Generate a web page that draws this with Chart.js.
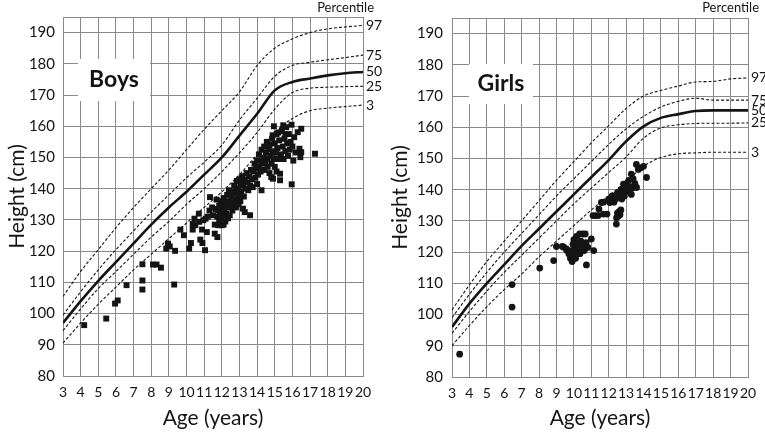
<!DOCTYPE html>
<html lang="en">
<head>
<meta charset="UTF-8">
<title>Height by age - Boys / Girls</title>
<script src="https://cdn.jsdelivr.net/npm/chart.js"></script>
<style>
  body { margin: 0; background: #fff; }
  canvas { position: absolute; top: 0; }
  #boysChart { left: 0; }
  #girlsChart { left: 382px; }
</style>
</head>
<body>
<canvas id="boysChart" width="382" height="433"></canvas>
<canvas id="girlsChart" width="383" height="433"></canvas>
<script>
// age axis and height axis
const ages = [3,4,5,6,7,8,9,10,11,12,13,14,15,16,17,18,19,20];
const yTicks = [80,90,100,110,120,130,140,150,160,170,180,190,195];

// reference percentile curves (cm), one value per age
const boys97 = [105.5,113.5,120.5,127.5,134,140,146,152.5,159,165,171,179.5,185,188,190,191.2,191.8,192.3];
const boys75 = [99.5,107,114,120.5,126.5,132.5,138,143.5,148.5,154,162,169,176,179.5,180.5,181.3,182,182.8];
const boys50 = [97,104,110.5,116.5,122.5,128.5,134,139,144.5,150,157,164,171.5,174.2,175.3,176.3,177,177.4];
const boys25 = [94.5,101.5,108,113.5,119,124.5,129.5,135,140,145.5,151.5,158,165.5,170.8,172.2,172.5,172.7,172.8];
const boys3  = [90.5,97,103,108.5,114,119,124,129,134,139,144.5,151,158,162.5,165,165.8,166.3,166.8];

const girls97 = [101.5,109.5,117,123.5,130,136.5,143,149,155,160.5,166,170,171.8,173.2,174.5,174.7,175.5,175.8];
const girls75 = [99,106.5,113.5,120,126,132,138,143.5,149,154.5,159.5,163.5,166.5,168.3,169.3,168.7,168.7,168.7];
const girls50 = [96,103.5,110,116,122,127.5,133,138.5,144,149.5,155.5,160.3,163,164.2,165.2,165.4,165.4,165.4];
const girls25 = [94,101,107.5,113.5,119,124.5,130,135.5,140.5,145.5,150.5,156.5,159.8,160.8,161.2,161.3,161.3,161.4];
const girls3  = [90,96.5,102.5,108,113,118.5,123.5,128.5,133.5,138,142.5,147.5,150.3,151.5,151.8,152,152,152];

// measured children [age, height]
const boysMeasured = [
  [4.2,96.3],[5.45,98.4],[5.95,103.2],[6.1,104.2],[6.6,109.1],[7.5,115.8],[7.5,110.6],[7.5,107.7],
  [8.1,115.7],[8.3,115.7],[8.55,114.7],[9.3,109.3],[8.85,120.8],[8.95,122.4],[9.05,121.5],[9.35,120.1],
  [9.65,126.9],[9.85,125.1],[10.15,120.8],[10.25,122.6],[10.35,126.9],[10.35,128.7],[10.45,130.4],[10.7,132],
  [10.72,129.4],[10.78,123.7],[10.9,122.6],[10.88,126.9],[11.05,120.3],[11.08,130.4],[11.15,126.1],[11.6,125.6],
  [11.75,124.5],[11.8,128.3],[12.0,128.3],[12.1,128.5],[10.5,128.3],[10.95,129.9],[11.2,131],[11.3,133],
  [11.33,137.3],[11.45,134],[11.5,131.5],[11.6,128.5],[11.65,133.5],
  [11.75,131],[11.8,133],[11.85,134.5],[11.9,132],[11.95,136],[12.0,130.5],[12.0,133.5],[12.05,135],
  [12.1,131.5],[12.1,137],[12.15,133],[12.2,129.5],[12.2,135.5],[12.25,132],[12.3,134],[12.3,138],
  [12.35,130.5],[12.4,136],[12.45,131.5],[12.5,134.5],[12.55,137.5],[12.6,133],[12.65,135.5],[12.7,139],
  [11.7,136.5],[11.85,129.5],[12.4,139.5],[12.75,136.5],[12.8,134],[12.9,137.5],
  [12.6,138.5],[12.7,141],[12.8,139.5],[12.85,142.5],[12.9,140],[13.0,138],[13.0,143],[13.05,141],
  [13.1,139],[13.15,144],[13.2,141.5],[13.25,137.5],[13.3,143],[13.35,140],[13.4,145],[13.45,142],
  [13.5,139.5],[13.55,144],[13.6,141],[13.65,146],[13.7,143],[13.75,140.5],[13.8,145.5],[13.85,148],
  [13.9,143.5],[13.95,146.5],[14.0,141.5],[14.0,149],[13.2,133.6],[13.3,132.5],[13.6,131.5],[14.25,139.5],
  [13.05,136],[12.95,135],
  [14.05,144.5],[14.1,147],[14.1,151],[14.15,149],[14.2,145.5],[14.25,152.5],[14.3,148],[14.35,150],
  [14.4,146],[14.4,153.5],[14.45,148.5],[14.5,151.5],[14.55,155],[14.6,147],[14.6,149.5],[14.65,152.5],
  [14.7,145],[14.7,154],[14.75,150.5],[14.8,143.7],[14.8,148],[14.85,156],[14.9,152],[14.9,143.2],
  [14.95,149.5],[15.0,154.5],[15.0,147],[15.05,151.5],[15.1,157.5],[15.1,145.5],[15.15,153],[15.2,149.5],
  [15.25,155.5],[15.3,144.8],[15.3,142.7],[15.35,151],[14.88,157.1],
  [15.4,158.5],[15.45,153.5],[15.48,160.3],[15.5,149.5],[15.55,156],[15.6,152],[15.65,159.7],[15.7,154.5],
  [15.75,150.5],[15.8,157.5],[15.85,152.5],[15.9,155],[15.95,160.5],[15.96,141.4],[16.0,153.5],[16.05,149],
  [16.1,156.5],[16.2,151.6],[16.3,158.1],[16.4,152.8],[16.45,150.1],[16.5,151.7],[16.5,159.2],[17.28,151.2],
  [15.6,157.5],[15.2,158],[14.95,160]
];
const girlsMeasured = [
  [3.44,87.3],[6.45,109.6],[6.45,102.4],[8.04,114.9],[8.84,117.3],[9.0,121.8],[9.34,121.8],[9.42,121.6],
  [9.57,121],[9.6,120.5],[9.72,119.4],[9.8,118],[9.85,120.5],[9.9,117],[9.95,122.5],[10.0,124],
  [10.0,119.5],[10.05,121.5],[10.1,123],[10.1,118],[10.15,125],[10.2,120.5],[10.25,122.5],[10.3,121.5],
  [10.33,125.8],[10.35,119.5],[10.4,123.5],[10.45,121],[10.5,125.8],[10.55,122.5],[10.6,120.5],[10.65,125.8],
  [10.7,123],[10.72,115.9],[10.8,121.5],[11.0,124.2],[11.14,120.5],
  [11.1,131.7],[11.25,131.7],[11.4,131.7],[11.44,133.8],[11.58,135.9],[11.7,132.2],[11.9,132.2],
  [11.7,136],[12.0,137],[12.06,135.9],[12.2,138],[12.3,136],[12.44,129],[12.45,131],[12.5,132.5],
  [12.55,131.5],[12.6,133],[12.65,132],[12.7,133.5],[12.4,137],[12.5,139],[12.6,138],[12.7,140],
  [12.75,137],[12.8,139.5],[12.85,141.8],[12.9,138],[13.0,140.5],[13.05,142],[13.1,139.5],[13.15,143],
  [13.2,141],[13.3,145],[13.35,140.5],[13.4,143.5],[13.5,142],[13.59,148.1],[13.7,146.5],[13.85,147],
  [14.0,147.5],[14.17,143.9],[13.6,140.7],[13.3,138.5]
];

const percentileNames = ['97','75','50','25','3'];
const gridColor = '#8a8a8a';
const inkColor = '#141414';

// white box with the panel name, percentile names at the right end of each curve
const panelText = {
  id: 'panelText',
  beforeDatasetsDraw(chart, args, o) {
    const {ctx, chartArea} = chart;
    ctx.save();
    ctx.fillStyle = '#fff';
    ctx.fillRect(chartArea.left + o.box[0], chartArea.top + o.box[1], o.box[2], o.box[3]);
    ctx.fillStyle = inkColor;
    ctx.font = 'bold 23px Lato';
    ctx.textAlign = 'center';
    ctx.textBaseline = 'middle';
    ctx.fillText(o.title, chartArea.left + o.box[0] + o.box[2] / 2, chartArea.top + o.box[1] + o.box[3] / 2);
    ctx.restore();
  },
  afterDraw(chart) {
    const {ctx, chartArea} = chart;
    const y = chart.scales.y;
    ctx.save();
    ctx.fillStyle = inkColor;
    ctx.font = '14px Lato';
    ctx.textAlign = 'left';
    ctx.textBaseline = 'middle';
    chart.data.datasets.forEach(ds => {
      if (!ds.pct) return;
      const last = ds.data[ds.data.length - 1];
      ctx.fillText(ds.pct, chartArea.right + 3, y.getPixelForValue(last.y));
    });
    ctx.font = '13px Lato';
    ctx.textAlign = 'right';
    ctx.fillText('Percentile', chartArea.right + 11, 8);
    ctx.restore();
  }
};

function makeChart(id, title, curves, measured, pointStyle, pointRadius, pad, box) {
  const datasets = curves.map((vals, i) => ({
    pct: percentileNames[i],
    data: ages.map((a, j) => ({x: a, y: vals[j]})),
    showLine: true,
    borderColor: inkColor,
    borderWidth: percentileNames[i] === '50' ? 2.6 : 1.1,
    borderDash: percentileNames[i] === '50' ? [] : [3, 2],
    cubicInterpolationMode: 'monotone',
    pointRadius: 0,
    order: 2
  }));
  datasets.push({
    data: measured.map(p => ({x: p[0], y: p[1]})),
    pointStyle: pointStyle,
    pointRadius: pointRadius,
    backgroundColor: inkColor,
    borderWidth: 0,
    order: 1
  });

  new Chart(document.getElementById(id), {
    type: 'scatter',
    data: {datasets: datasets},
    plugins: [panelText],
    options: {
      responsive: false,
      animation: false,
      layout: {padding: {top: 16, right: pad.right, left: 0, bottom: 0}},
      plugins: {
        legend: {display: false},
        tooltip: {enabled: false},
        panelText: {title: title, box: box}
      },
      scales: {
        x: {
          type: 'linear', min: 3, max: 20,
          afterFit: s => { s.height = pad.bottom; },
          afterBuildTicks: s => { s.ticks = ages.map(v => ({value: v})); },
          grid: {color: gridColor, drawTicks: false},
          border: {color: gridColor},
          ticks: {color: inkColor, font: {family: 'Lato', size: 14}, padding: 8, maxRotation: 0, autoSkip: false},
          title: {display: true, text: 'Age (years)', color: inkColor, font: {family: 'Lato', size: 21}, padding: {top: 0, bottom: 2}}
        },
        y: {
          type: 'linear', min: 80, max: 195,
          afterFit: s => { s.width = pad.left; },
          afterBuildTicks: s => { s.ticks = yTicks.map(v => ({value: v})); },
          grid: {color: gridColor, drawTicks: false},
          border: {color: gridColor},
          ticks: {color: inkColor, font: {family: 'Lato', size: 15}, padding: pad.tick,
            callback: v => (v === 195 ? '' : v)},
          title: {display: true, text: 'Height (cm)', color: inkColor, font: {family: 'Lato', size: 21}, padding: {top: pad.title, bottom: 0}}
        }
      }
    }
  });
}

makeChart('boysChart', 'Boys', [boys97, boys75, boys50, boys25, boys3], boysMeasured, 'rect', 4.2,
  {left: 63, right: 19, bottom: 57, tick: 8, title: 5}, [15, 42, 72, 42]);
makeChart('girlsChart', 'Girls', [girls97, girls75, girls50, girls25, girls3], girlsMeasured, 'circle', 3.4,
  {left: 70, right: 17, bottom: 56, tick: 9, title: 6}, [17, 46, 64, 40]);
</script>
</body>
</html>
